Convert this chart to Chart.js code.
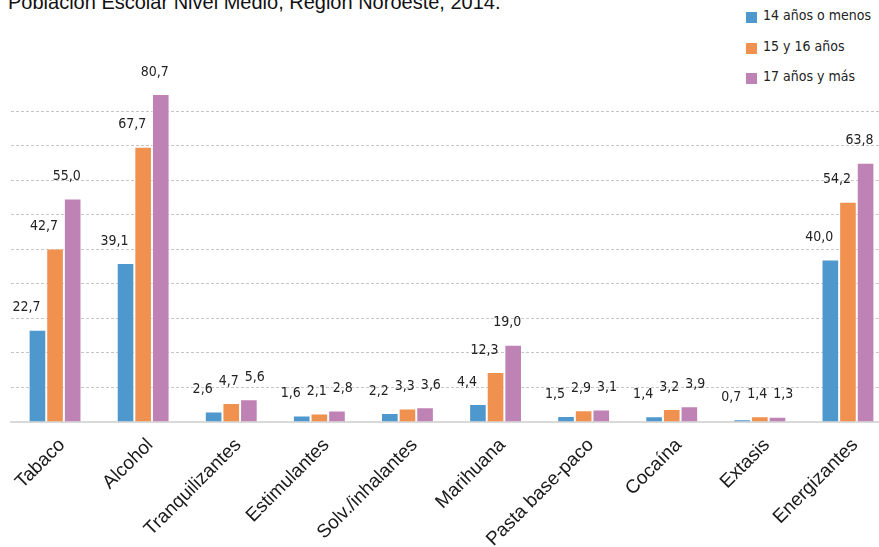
<!DOCTYPE html>
<html lang="es">
<head>
  <meta charset="UTF-8">
  <title>Población Escolar Nivel Medio</title>
  <script src="https://cdn.jsdelivr.net/npm/chart.js"></script>
  <style>
    body {
      margin: 0;
      width: 879px;
      height: 547px;
      overflow: hidden;
      position: relative;
      background: #ffffff;
    }

    .titulo {
      position: absolute;
      left: 8px;
      top: -8px;
      font-family: "Liberation Sans", Arial, sans-serif;
      font-size: 20px;
      line-height: 20px;
      color: #111;
      white-space: nowrap;
    }

    .leyenda {
      position: absolute;
      left: 746px;
      top: 7px;
      font-family: "DejaVu Sans Condensed", "DejaVu Sans", sans-serif;
      font-size: 14px;
      color: #222;
    }

    .leyenda div {
      height: 30.5px;
      display: flex;
      align-items: flex-start;
    }

    .leyenda span.caja {
      display: inline-block;
      width: 11px;
      height: 11px;
      margin: 5px 6px 0 0;
    }

    .grafico {
      position: absolute;
      left: 0;
      top: 0;
    }
  </style>
</head>
<body>

  <div class="titulo">Población Escolar Nivel Medio, Región Noroeste, 2014.</div>
  <div class="leyenda" id="leyenda"></div>

  <canvas id="chartSustancias" class="grafico" width="892" height="547"></canvas>

<script>
  // datos
  const sustancias = ['Tabaco', 'Alcohol', 'Tranquilizantes', 'Estimulantes', 'Solv./inhalantes',
    'Marihuana', 'Pasta base-paco', 'Cocaína', 'Extasis', 'Energizantes'];
  const grupos = ['14 años o menos', '15 y 16 años', '17 años y más'];
  const hasta14 = [22.7, 39.1, 2.6, 1.6, 2.2, 4.4, 1.5, 1.4, 0.7, 40.0];
  const de15a16 = [42.7, 67.7, 4.7, 2.1, 3.3, 12.3, 2.9, 3.2, 1.4, 54.2];
  const desde17 = [55.0, 80.7, 5.6, 2.8, 3.6, 19.0, 3.1, 3.9, 1.3, 63.8];

  const colores = ['#4f98cd', '#f0914f', '#bf82b5'];
  const corrimiento = [-11, -11, -6];

  // leyenda en html
  const leyenda = document.getElementById('leyenda');
  grupos.forEach((g, i) => {
    const fila = document.createElement('div');
    fila.innerHTML = `<span class="caja" style="background:${colores[i]}"></span><span>${g}</span>`;
    leyenda.appendChild(fila);
  });

  // etiquetas de valor sobre cada barra (se corren a la derecha si chocan)
  const etiquetas = {
    id: 'etiquetas',
    afterDatasetsDraw(chart) {
      const ctx = chart.ctx;
      ctx.save();
      ctx.font = '14px "DejaVu Sans Condensed", "DejaVu Sans", sans-serif';
      ctx.fillStyle = '#222';
      ctx.textAlign = 'center';
      ctx.textBaseline = 'middle';
      const n = chart.data.labels.length;
      for (let j = 0; j < n; j++) {
        let prev = null;
        chart.data.datasets.forEach((ds, i) => {
          const bar = chart.getDatasetMeta(i).data[j];
          const txt = ds.data[j].toFixed(1).replace('.', ',');
          const w = ctx.measureText(txt).width;
          const y = bar.y - 22;
          let x = bar.x + corrimiento[i];
          if (prev && Math.abs(prev.y - y) < 16 && x - w / 2 < prev.right + 6) {
            x = prev.right + 6 + w / 2;
          }
          ctx.fillText(txt, x, y);
          prev = { right: x + w / 2, y: y };
        });
      }
      ctx.restore();
    }
  };

  const series = [hasta14, de15a16, desde17];

  new Chart(document.getElementById('chartSustancias'), {
    type: 'bar',
    data: {
      labels: sustancias,
      datasets: series.map((d, i) => ({
        label: grupos[i],
        data: d,
        backgroundColor: colores[i],
        borderColor: 'rgba(255,255,255,0.45)',
        borderWidth: 1,
        categoryPercentage: 0.6,
        barPercentage: 1.0
      }))
    },
    options: {
      responsive: false,
      animation: false,
      layout: { padding: { left: 11, right: 0, top: 76.5, bottom: 0 } },
      plugins: {
        legend: { display: false },
        tooltip: { enabled: false }
      },
      scales: {
        x: {
          grid: { display: false },
          border: { color: '#d9d9d9', width: 2 },
          ticks: {
            color: '#1a1a1a',
            font: { family: '"Liberation Sans", Arial, sans-serif', size: 19 },
            minRotation: 45,
            maxRotation: 45,
            padding: 4,
            labelOffset: 7
          },
          afterFit(scale) { scale.height = 125; }
        },
        y: {
          min: 0,
          max: 85,
          ticks: { display: false, stepSize: 8.5 },
          border: { display: false, dash: [3, 2] },
          grid: {
            color: (c) => (c.tick.value === 0 || c.tick.value === 85) ? 'rgba(0,0,0,0)' : '#c6c6c6',
            lineWidth: 1,
            drawTicks: false
          },
          afterFit(scale) { scale.width = 0; }
        }
      }
    },
    plugins: [etiquetas]
  });
</script>

</body>
</html>
